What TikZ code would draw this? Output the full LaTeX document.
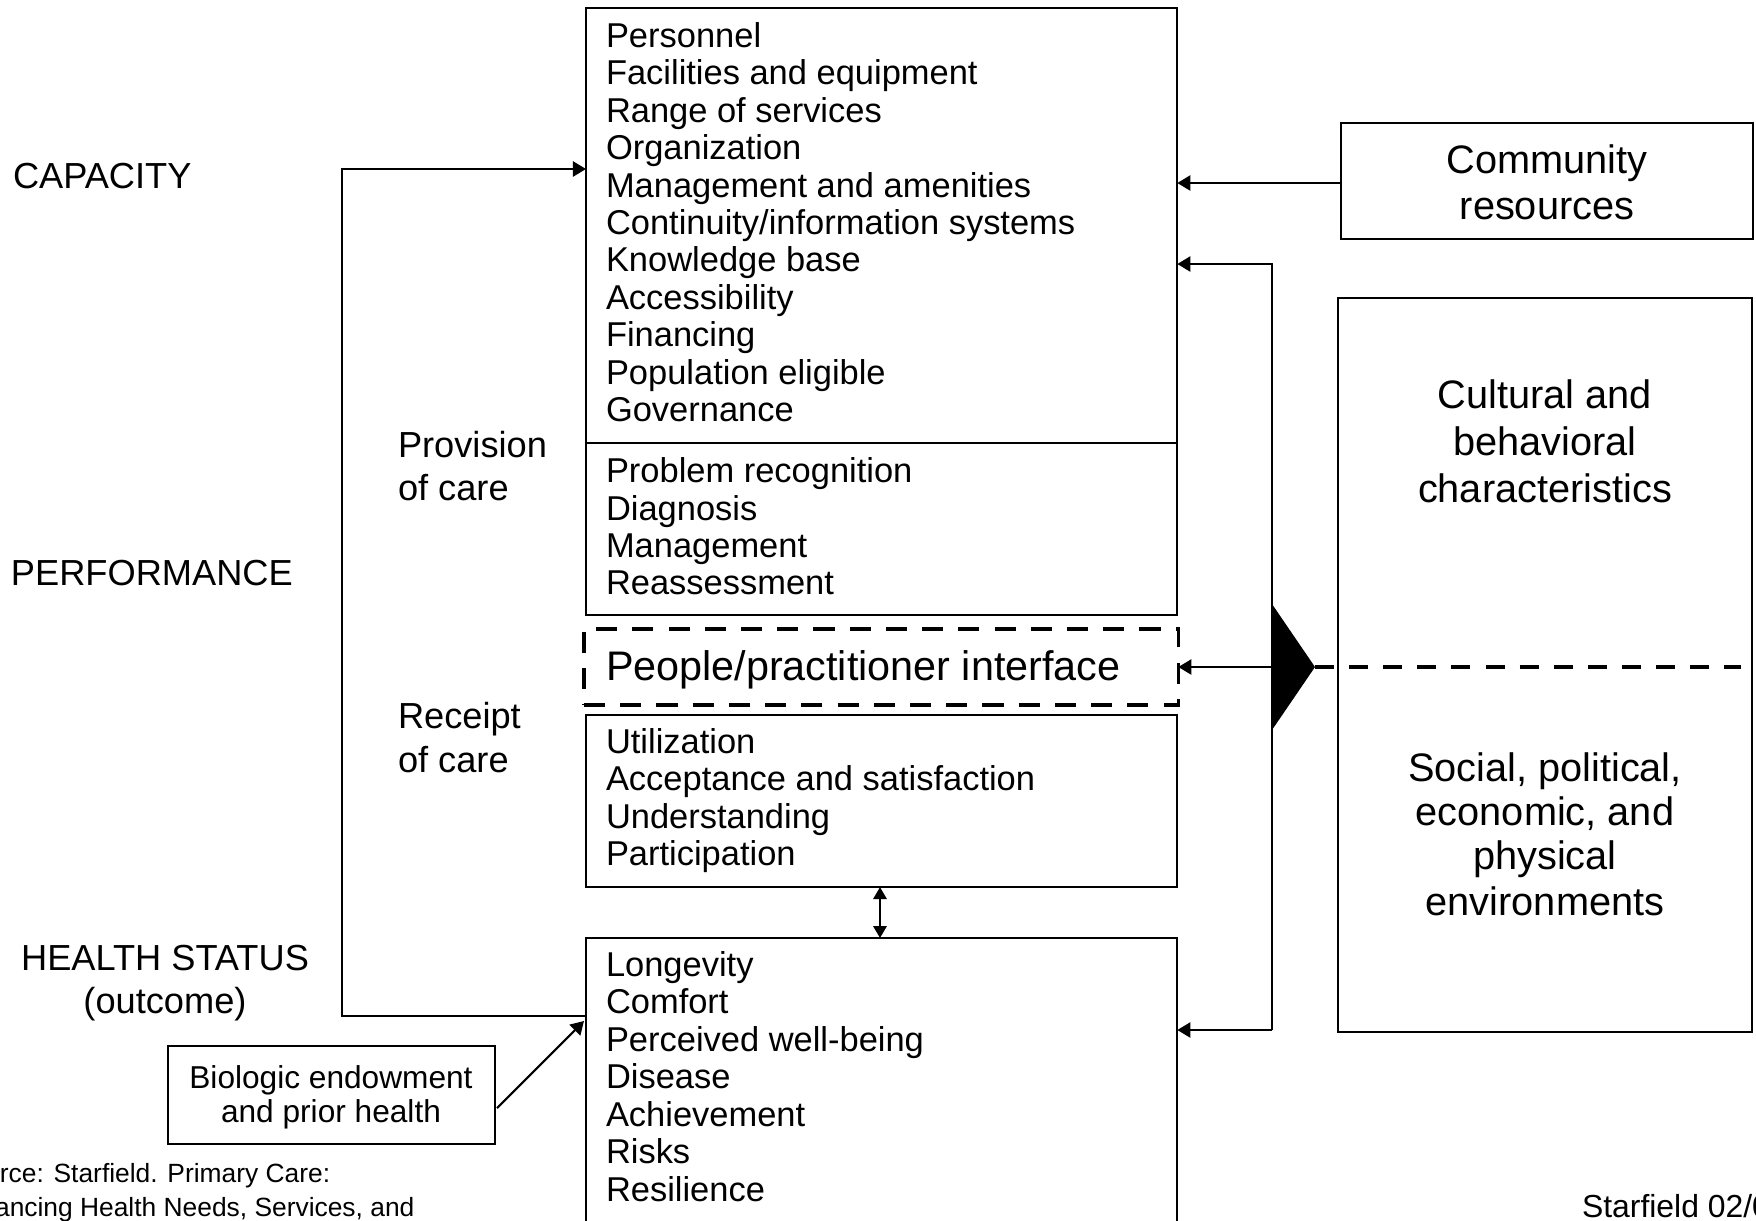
\documentclass[tikz,border=0pt]{standalone}
\usepackage{fontspec}
\setmainfont{Liberation Sans}
\usetikzlibrary{arrows.meta}

\def\unit{0.01cm}

\begin{document}
\begin{tikzpicture}[x=\unit, y=-\unit,
    every node/.style={inner sep=0pt, outer sep=0pt},
    box/.style={draw, line width=0.6pt, anchor=north west},
    listline/.style={anchor=base west, font=\fontsize{9.8}{10.6}\selectfont},
    sidetext/.style={anchor=base west, font=\fontsize{10.3}{12}\selectfont},
    bigtext/.style={anchor=base, font=\fontsize{11.3}{13}\selectfont},
    arr/.style={-{Triangle[length=3.7pt,width=4.3pt]}, line width=0.6pt},
    dblarr/.style={{Triangle[length=3.4pt,width=3.8pt]}-{Triangle[length=3.4pt,width=3.8pt]}, line width=0.6pt}]
      \useasboundingbox (0,0) rectangle (1756,1220);
      % left labels
      \node[sidetext] (capacity) at (13,188) {CAPACITY};
      \node[sidetext] (performance) at (11,585) {PERFORMANCE};
      \node[sidetext, anchor=base] (health) at (165,970) {HEALTH STATUS};
      \node[sidetext, anchor=base] (outcome) at (165,1013) {(outcome)};
      \node[sidetext] (provision) at (398,457) {Provision};
      \node[sidetext] (provisionb) at (398,500) {of care};
      \node[sidetext] (receipt) at (398,728) {Receipt};
      \node[sidetext] (receiptb) at (398,772) {of care};
      % middle column
      \node[box, minimum width=5.91cm, minimum height=6.07cm] (capbox) at (586,8) {};
      \coordinate (divl) at (586,443);
      \coordinate (divr) at (1177,443);
      \draw[line width=0.6pt] (divl) -- (divr);
      \node[box, line width=1pt, dash pattern=on 6pt off 4.3pt, minimum width=5.94cm, minimum height=0.76cm] (dashbox) at (584,629) {};
      \node[box, minimum width=5.91cm, minimum height=1.72cm] (recbox) at (586,715) {};
      \node[box, minimum width=5.91cm, minimum height=3.0cm] (hlthbox) at (586,938) {};
      \node[listline] (cap1) at (606,47) {Personnel};
      \node[listline] (cap2) at (606,84) {Facilities and equipment};
      \node[listline] (cap3) at (606,122) {Range of services};
      \node[listline] (cap4) at (606,159) {Organization};
      \node[listline] (cap5) at (606,197) {Management and amenities};
      \node[listline] (cap6) at (606,234) {Continuity/information systems};
      \node[listline] (cap7) at (606,271) {Knowledge base};
      \node[listline] (cap8) at (606,309) {Accessibility};
      \node[listline] (cap9) at (606,346) {Financing};
      \node[listline] (cap10) at (606,384) {Population eligible};
      \node[listline] (cap11) at (606,421) {Governance};
      \node[listline] (prov1) at (606,482) {Problem recognition};
      \node[listline] (prov2) at (606,520) {Diagnosis};
      \node[listline] (prov3) at (606,557) {Management};
      \node[listline] (prov4) at (606,594) {Reassessment};
      \node[listline, font=\fontsize{11.75}{13}\selectfont] (interface) at (606,680) {People/practitioner interface};
      \node[listline] (rec1) at (606,753) {Utilization};
      \node[listline] (rec2) at (606,790) {Acceptance and satisfaction};
      \node[listline] (rec3) at (606,828) {Understanding};
      \node[listline] (rec4) at (606,865) {Participation};
      \node[listline] (hlth1) at (606,976) {Longevity};
      \node[listline] (hlth2) at (606,1013) {Comfort};
      \node[listline] (hlth3) at (606,1051) {Perceived well-being};
      \node[listline] (hlth4) at (606,1088) {Disease};
      \node[listline] (hlth5) at (606,1126) {Achievement};
      \node[listline] (hlth6) at (606,1163) {Risks};
      \node[listline] (hlth7) at (606,1201) {Resilience};
      % right column
      \node[box, minimum width=4.12cm, minimum height=1.16cm] (combox) at (1341,123) {};
      \node[bigtext] (com1) at (1547,173) {Community};
      \node[bigtext] (com2) at (1547,219) {resources};
      \node[box, minimum width=4.14cm, minimum height=7.34cm] (envbox) at (1338,298) {};
      \node[bigtext] (cult1) at (1545,408) {Cultural and};
      \node[bigtext] (cult2) at (1545,455) {behavioral};
      \node[bigtext] (cult3) at (1545,502) {characteristics};
      \node[bigtext] (soc1) at (1545,781) {Social, political,};
      \node[bigtext] (soc2) at (1545,825) {economic, and};
      \node[bigtext] (soc3) at (1545,869) {physical};
      \node[bigtext] (soc4) at (1545,915) {environments};
      % bottom left
      \node[box, minimum width=3.27cm, minimum height=0.98cm] (biobox) at (168,1046) {};
      \node[anchor=base, font=\fontsize{9}{10}\selectfont] (bio1) at (331,1088) {Biologic endowment};
      \node[anchor=base, font=\fontsize{9}{10}\selectfont] (bio2) at (331,1122) {and prior health};
      \node[anchor=base west, font=\fontsize{7.5}{9}\selectfont] (source1) at (-47,1182) {Source: Starfield. Primary Care:};
      \node[anchor=base west, font=\fontsize{7.5}{9}\selectfont] (source2) at (-43,1216) {Balancing Health Needs, Services, and};
      \node[anchor=base west, font=\fontsize{9.07}{10}\selectfont] (stamp) at (1582,1217) {Starfield 02/0};
      % connectors
      \coordinate (brtop) at (342,169);
      \coordinate (brbot) at (342,1016);
      \draw[arr] (hlthbox.west |- brbot) -- (brbot) -- (brtop) -- (capbox.west |- brtop);
      \coordinate (biostart) at (497,1108);
      \coordinate (biotip) at (584,1021);
      \draw[arr] (biostart) -- (biotip);
      \draw[dblarr] (recbox.south -| 880,0) -- (hlthbox.north -| 880,0);
      \coordinate (comleft) at (1341,183);
      \draw[arr] (comleft) -- (capbox.east |- comleft);
      \coordinate (vtop) at (1272,264);
      \coordinate (vmid) at (1272,667);
      \coordinate (vbot) at (1272,1030);
      \draw[arr] (vbot) -- (vtop) -- (capbox.east |- vtop);
      \draw[arr] (vbot) -- (hlthbox.east |- vbot);
      \draw[arr] (vmid) -- (dashbox.east |- vmid);
      \coordinate (tip) at (1315,667);
      \coordinate (dashend) at (1741,667);
      \fill (1272,604) -- (tip) -- (1272,730) -- cycle;
      \draw[line width=0.9pt, dash pattern=on 5.4pt off 4.3pt] (tip) -- (dashend);
    \end{tikzpicture}
\end{document}
